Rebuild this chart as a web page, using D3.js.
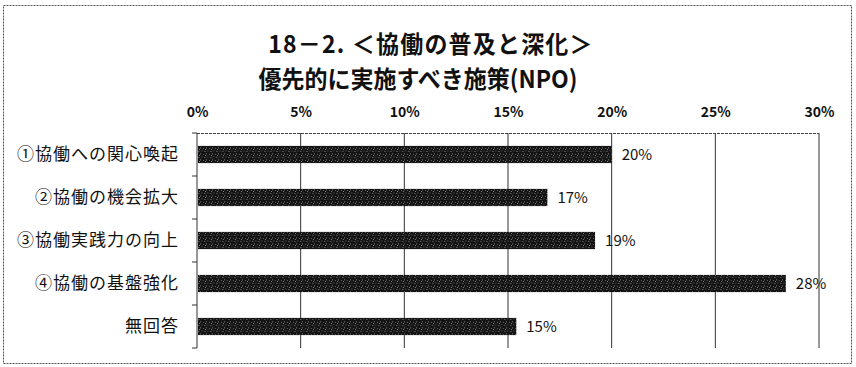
<!DOCTYPE html>
<html>
<head>
<meta charset="utf-8">
<script src="https://cdn.jsdelivr.net/npm/d3@7/dist/d3.min.js"></script>
<style>
  html, body { margin: 0; padding: 0; background: #fff; }
  svg { display: block; }
  text { font-family: "Noto Sans CJK JP", "Noto Sans", sans-serif; fill: #111; }
</style>
</head>
<body>
<script>
// Survey answers: share of respondents choosing each measure
const categories = ["①協働への関心喚起", "②協働の機会拡大", "③協働実践力の向上", "④協働の基盤強化", "無回答"];
const shares = [0.200, 0.169, 0.192, 0.284, 0.154];
const tickValues = [0, 0.05, 0.10, 0.15, 0.20, 0.25, 0.30];
const titleLines = ["18－2. ＜協働の普及と深化＞", "優先的に実施すべき施策(NPO)"];

const W = 856, H = 367;
const margin = { top: 133, left: 197, right: 37, bottom: 19 };

const svg = d3.select("body").append("svg").attr("width", W).attr("height", H);

// Speckled dark fill for the bars
const defs = svg.append("defs");
const pat = defs.append("pattern").attr("id", "speckle")
  .attr("width", 6).attr("height", 6).attr("patternUnits", "userSpaceOnUse");
pat.append("rect").attr("width", 6).attr("height", 6).attr("fill", "#141414");
[[0.5, 1], [3.5, 0.5], [2, 3.5], [5, 4], [1, 5.2]].forEach(([cx, cy], i) => {
  pat.append("rect").attr("x", cx).attr("y", cy).attr("width", 0.8).attr("height", 0.8)
    .attr("fill", i % 2 ? "#8a8a8a" : "#bdbdbd");
});

// Outer frame
svg.append("rect").attr("x", 3.5).attr("y", 5.5).attr("width", 848).attr("height", 358)
  .attr("fill", "none").attr("stroke", "#555").attr("stroke-width", 1)
  .attr("stroke-dasharray", "2,1");

// Title, two lines, slightly stretched vertically
const titleX = [431, 418];
svg.append("g").selectAll("text").data(titleLines).join("text")
  .attr("transform", (d, i) => `translate(${titleX[i]},${53 + i * 35}) scale(1,1.06)`)
  .attr("text-anchor", "middle").attr("font-size", 23).attr("font-weight", "bold")
  .attr("letter-spacing", (d, i) => i === 0 ? 1.2 : 0)
  .text(d => d);

const x = d3.scaleLinear().domain([0, 0.30]).range([margin.left, W - margin.right]);
const y = d3.scaleBand().domain(categories).range([margin.top, H - margin.bottom]).paddingInner(0.6).paddingOuter(0.3);
const yb = d3.scaleBand().domain(categories).range([margin.top, H - margin.bottom]);

// Vertical gridlines
svg.append("g").selectAll("line").data(tickValues.slice(1)).join("line")
  .attr("x1", d => x(d)).attr("x2", d => x(d))
  .attr("y1", margin.top).attr("y2", H - margin.bottom)
  .attr("stroke", "#333").attr("stroke-width", 1);

// Top edge of the plot
svg.append("line").attr("x1", x(0)).attr("x2", x(0.30))
  .attr("y1", margin.top + 0.5).attr("y2", margin.top + 0.5)
  .attr("stroke", "#444").attr("stroke-dasharray", "3,1");

// Percent axis along the top
const xAxis = d3.axisTop(x).tickValues(tickValues).tickFormat(d3.format(".0%")).tickSize(0).tickPadding(16);
const gx = svg.append("g").attr("transform", `translate(0,${margin.top})`).call(xAxis);
gx.select(".domain").remove();
gx.selectAll("text").attr("font-size", 14).attr("font-weight", "bold")
  .attr("font-family", "'Liberation Sans', 'Noto Sans', sans-serif").attr("fill", "#222");

// Category axis with ticks at band boundaries
const gy = svg.append("g").attr("transform", `translate(${x(0)},0)`);
gy.append("line").attr("x1", 0).attr("x2", 0).attr("y1", margin.top).attr("y2", H - margin.bottom)
  .attr("stroke", "#333");
gy.selectAll("line.tk").data(categories.concat(["end"])).join("line").attr("class", "tk")
  .attr("x1", -5).attr("x2", 0)
  .attr("y1", (d, i) => i < categories.length ? yb(d) : H - margin.bottom)
  .attr("y2", (d, i) => i < categories.length ? yb(d) : H - margin.bottom)
  .attr("stroke", "#333");
gy.selectAll("text").data(categories).join("text")
  .attr("x", -18).attr("y", d => y(d) + y.bandwidth() / 2)
  .attr("dy", "0.35em").attr("text-anchor", "end")
  .attr("font-size", 17).attr("letter-spacing", 1)
  .text(d => d);

// Bars
const data = categories.map((c, i) => ({ c, v: shares[i] }));
svg.append("g").selectAll("rect").data(data).join("rect")
  .attr("x", x(0) + 1).attr("y", d => y(d.c))
  .attr("width", d => x(d.v) - x(0) - 1).attr("height", y.bandwidth())
  .attr("fill", "url(#speckle)");

// Value labels
svg.append("g").selectAll("text").data(data).join("text")
  .attr("x", d => x(d.v) + 10).attr("y", d => y(d.c) + y.bandwidth() / 2)
  .attr("dy", "0.35em").attr("font-size", 15)
  .attr("font-family", "'Liberation Sans', 'Noto Sans', sans-serif")
  .text(d => d3.format(".0%")(d.v));
</script>
</body>
</html>
